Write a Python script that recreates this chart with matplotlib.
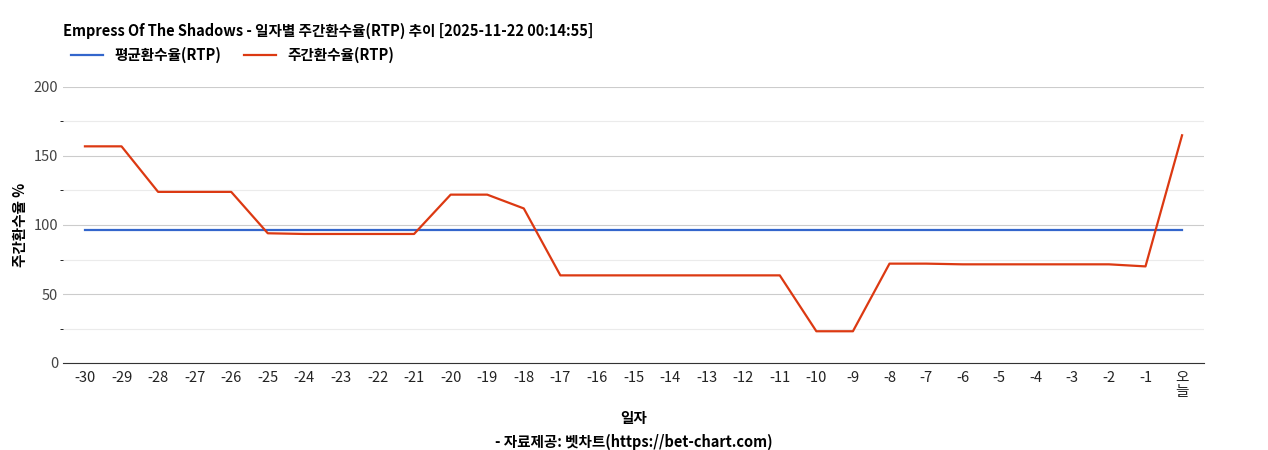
import matplotlib
matplotlib.use("Agg")
import matplotlib.pyplot as plt

plt.rcParams['font.family'] = ['Noto Sans CJK KR', 'DejaVu Sans']

categories = [str(i) for i in range(-30, 0)] + ["오\n늘"]
weekly_rtp = [157, 157, 124, 124, 124, 94, 93.5, 93.5, 93.5, 93.5, 122, 122, 112,
              63.5, 63.5, 63.5, 63.5, 63.5, 63.5, 63.5, 23, 23, 72, 72, 71.5, 71.5,
              71.5, 71.5, 71.5, 70, 165]
avg_rtp = [96.5] * len(categories)

fig = plt.figure(figsize=(12.68, 4.5), dpi=100)
ax = fig.add_axes([63/1268, 1-363/450, (1204-63)/1268, (363-87)/450])
x = list(range(len(categories)))
ax.plot(x, avg_rtp, color='#3366cc', lw=1.6, label='평균환수율(RTP)')
ax.plot(x, weekly_rtp, color='#dc3912', lw=1.6, label='주간환수율(RTP)')
ax.set_xlim(-0.6, len(categories) - 0.4)
ax.set_ylim(0, 200)
ax.set_yticks([0, 50, 100, 150, 200])
ax.set_yticks([25, 75, 125, 175], minor=True)
ax.grid(axis='y', which='major', color='#cccccc', lw=0.8)
ax.grid(axis='y', which='minor', color='#ebebeb', lw=0.8)
ax.set_axisbelow(True)
ax.set_xticks(x)
ax.set_xticklabels(categories, fontsize=10.5, linespacing=1.0)
ax.tick_params(axis='y', labelsize=10.5, length=0, colors='#444444')
ax.tick_params(axis='x', length=0, pad=6, colors='#222222')
for s in ['top', 'right', 'left']:
    ax.spines[s].set_visible(False)
ax.spines['bottom'].set_color('#333333')
ax.set_ylabel('주간환수율 %', fontsize=10.5, fontweight='bold')
ax.set_xlabel('일자\n- 자료제공: 벳차트(https://bet-chart.com)', fontsize=10.5,
              fontweight='bold', labelpad=8, linespacing=1.6)
fig.text(63/1268, 1-31/450, 'Empress Of The Shadows - 일자별 주간환수율(RTP) 추이 [2025-11-22 00:14:55]',
         fontsize=10.5, fontweight='bold', va='center')
fig.legend(loc='center left', bbox_to_anchor=(58/1268, 1-55/450), ncol=2, frameon=False,
           prop={'size': 10.5, 'weight': 'bold'}, handlelength=2.2, columnspacing=1.5)
fig.savefig('out.png', dpi=100)
